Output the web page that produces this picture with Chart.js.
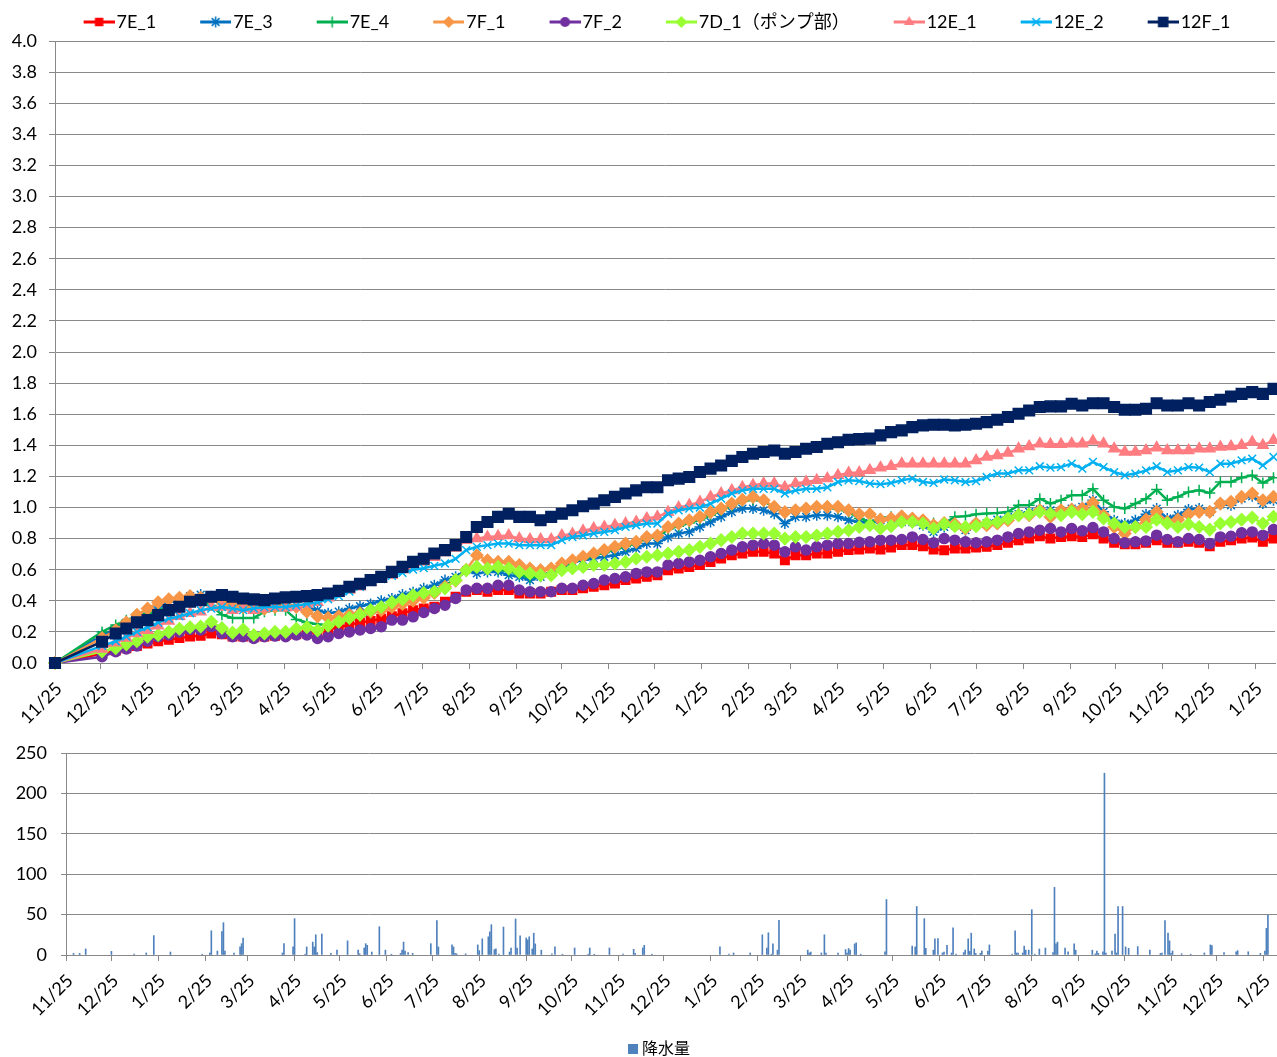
<!DOCTYPE html>
<html><head><meta charset="utf-8">
<script src="https://cdn.jsdelivr.net/npm/chart.js@4.4.1/dist/chart.umd.min.js"></script>
<style>
html,body{margin:0;padding:0;background:#fff;overflow:hidden;width:1277px;height:1057px;}
#c1{position:absolute;left:0;top:0;}
#c2{position:absolute;left:0;top:740px;}
</style></head><body>
<canvas id="c1" width="1277" height="750"></canvas>
<canvas id="c2" width="1277" height="327"></canvas>
<script>
// ---------- data ----------
const tickDays = [0,30,61,92,120,151,181,212,242,273,304,334,365,395,426,457,485,516,546,577,607,638,669,699,730,760,791];
const tickLabels = ['11/25','12/25','1/25','2/25','3/25','4/25','5/25','6/25','7/25','8/25','9/25','10/25','11/25','12/25','1/25','2/25','3/25','4/25','5/25','6/25','7/25','8/25','9/25','10/25','11/25','12/25','1/25'];
const seriesNames = ['7E_1','7E_3','7E_4','7F_1','7F_2','7D_1（ポンプ部）','12E_1','12E_2','12F_1'];
const measureDays = [0,31,40,47,54,61,68,75,82,89,96,103,110,117,124,131,138,145,152,159,166,173,180,187,194,201,208,215,222,229,236,
243,250,257,264,271,278,285,292,299,306,313,320,327,334,341,348,355,362,369,376,383,390,397,404,411,418,425,432,439,446,453,460,467,474,481,488,495,502,509,516,523,530,
537,544,551,558,565,572,579,586,593,600,607,614,621,628,635,642,649,656,663,670,677,684,691,698,705,712,719,726,733,740,747,754,761,768,775,782,789,796,803];

const v7E_1 = [0,0.06,0.08,0.095,0.11,0.125,0.14,0.15,0.16,0.17,0.175,0.19,0.185,0.17,0.17,0.165,0.17,0.175,0.18,0.185,0.19,0.2,0.215,0.23,0.245,0.26,0.27,0.285,0.3,0.32,0.34,
0.35,0.362,0.394,0.426,0.458,0.469,0.458,0.469,0.469,0.447,0.447,0.447,0.458,0.469,0.469,0.48,0.49,0.5,0.511,0.533,0.543,0.554,0.565,0.597,0.608,0.618,0.63,0.65,0.672,0.693,0.704,0.715,0.715,0.704,0.66,0.693,0.693,0.704,0.704,0.715,0.726,0.73,
0.736,0.73,0.743,0.758,0.758,0.751,0.73,0.725,0.736,0.736,0.743,0.747,0.758,0.773,0.79,0.8,0.815,0.8,0.811,0.815,0.811,0.828,0.8,0.773,0.764,0.764,0.773,0.79,0.773,0.773,0.779,0.773,0.751,0.779,0.79,0.8,0.807,0.779,0.8];
const v7E_3 = [0,0.18,0.22,0.26,0.29,0.32,0.36,0.39,0.41,0.43,0.44,0.43,0.41,0.39,0.38,0.37,0.37,0.37,0.37,0.37,0.36,0.34,0.32,0.33,0.35,0.365,0.38,0.4,0.415,0.44,0.455,
0.48,0.5,0.533,0.554,0.597,0.576,0.586,0.586,0.565,0.554,0.533,0.554,0.576,0.619,0.65,0.66,0.672,0.683,0.693,0.715,0.736,0.768,0.768,0.81,0.833,0.843,0.875,0.907,0.94,0.972,0.993,0.993,0.982,0.96,0.897,0.94,0.94,0.95,0.95,0.94,0.918,0.907,
0.9,0.918,0.922,0.907,0.907,0.886,0.843,0.875,0.886,0.854,0.893,0.9,0.922,0.94,0.957,0.972,0.987,0.982,0.978,0.993,1.004,1.047,0.972,0.918,0.897,0.918,0.957,0.993,0.929,0.95,0.987,0.993,0.972,1.021,1.014,1.057,1.072,1.025,1.047];
const v7E_4 = [0,0.2,0.245,0.275,0.3,0.32,0.34,0.36,0.38,0.39,0.39,0.37,0.31,0.29,0.29,0.29,0.33,0.34,0.34,0.28,0.26,0.25,0.24,0.26,0.28,0.3,0.32,0.34,0.36,0.38,0.41,
0.43,0.46,0.5,0.54,0.59,0.62,0.6,0.6,0.59,0.57,0.55,0.56,0.58,0.62,0.65,0.67,0.69,0.71,0.73,0.75,0.77,0.8,0.81,0.86,0.88,0.9,0.92,0.95,0.98,1.01,1.04,1.05,1.04,1.0,0.97,0.98,0.99,1.0,1.0,0.99,0.97,0.93,
0.907,0.929,0.94,0.922,0.918,0.907,0.9,0.897,0.94,0.944,0.957,0.961,0.965,0.972,1.014,1.014,1.057,1.025,1.047,1.079,1.079,1.121,1.047,1.004,0.993,1.025,1.057,1.115,1.047,1.068,1.1,1.111,1.094,1.164,1.164,1.192,1.207,1.158,1.192];
const v7F_1 = [0,0.16,0.21,0.26,0.31,0.35,0.39,0.41,0.42,0.43,0.42,0.41,0.39,0.37,0.36,0.36,0.35,0.36,0.37,0.36,0.33,0.3,0.29,0.3,0.31,0.32,0.33,0.34,0.36,0.38,0.4,
0.42,0.45,0.49,0.53,0.6,0.693,0.66,0.65,0.65,0.63,0.608,0.597,0.608,0.64,0.66,0.683,0.704,0.726,0.747,0.768,0.779,0.81,0.82,0.875,0.897,0.918,0.94,0.97,0.993,1.025,1.05,1.068,1.047,1.004,0.97,0.982,0.993,1.004,1.004,1.004,0.982,0.957,
0.957,0.922,0.929,0.944,0.929,0.918,0.886,0.9,0.893,0.865,0.897,0.886,0.897,0.918,0.95,0.95,0.982,0.94,0.982,0.987,0.993,1.03,0.95,0.875,0.833,0.875,0.922,0.972,0.907,0.922,0.957,0.972,0.972,1.025,1.036,1.068,1.09,1.047,1.068];
const v7F_2 = [0,0.04,0.073,0.09,0.11,0.14,0.169,0.18,0.2,0.216,0.212,0.233,0.19,0.169,0.169,0.158,0.169,0.173,0.169,0.18,0.18,0.158,0.169,0.19,0.2,0.212,0.222,0.233,0.276,0.276,0.297,
0.325,0.351,0.372,0.415,0.469,0.48,0.48,0.5,0.5,0.469,0.458,0.458,0.458,0.48,0.48,0.5,0.511,0.533,0.543,0.554,0.576,0.586,0.586,0.63,0.64,0.65,0.66,0.683,0.704,0.726,0.747,0.758,0.768,0.758,0.715,0.747,0.726,0.747,0.758,0.768,0.768,0.776,
0.779,0.79,0.79,0.794,0.811,0.794,0.773,0.8,0.79,0.779,0.773,0.779,0.79,0.811,0.833,0.843,0.854,0.865,0.843,0.865,0.85,0.871,0.843,0.8,0.773,0.779,0.785,0.822,0.794,0.779,0.8,0.794,0.768,0.811,0.815,0.837,0.843,0.822,0.858];
const v7D_1 = [0,0.075,0.095,0.12,0.14,0.17,0.18,0.2,0.22,0.23,0.235,0.265,0.225,0.195,0.215,0.18,0.19,0.2,0.2,0.22,0.23,0.21,0.24,0.265,0.29,0.31,0.34,0.36,0.39,0.41,0.435,
0.45,0.458,0.48,0.533,0.597,0.618,0.608,0.618,0.608,0.586,0.576,0.565,0.565,0.597,0.608,0.618,0.63,0.63,0.64,0.65,0.672,0.683,0.693,0.704,0.715,0.726,0.747,0.768,0.79,0.81,0.833,0.833,0.833,0.833,0.8,0.81,0.81,0.82,0.833,0.843,0.854,0.875,
0.886,0.865,0.88,0.907,0.907,0.897,0.865,0.893,0.88,0.875,0.88,0.9,0.907,0.929,0.95,0.957,0.972,0.961,0.95,0.972,0.957,0.972,0.929,0.897,0.875,0.875,0.875,0.922,0.897,0.875,0.893,0.875,0.858,0.897,0.907,0.922,0.935,0.897,0.94];
const v12E_1 = [0,0.09,0.13,0.16,0.19,0.21,0.24,0.27,0.3,0.32,0.33,0.36,0.36,0.34,0.35,0.34,0.35,0.36,0.355,0.36,0.38,0.39,0.42,0.45,0.47,0.49,0.52,0.54,0.565,0.6,0.62,
0.65,0.68,0.71,0.74,0.79,0.8,0.81,0.815,0.82,0.8,0.795,0.795,0.795,0.82,0.83,0.85,0.865,0.875,0.886,0.897,0.907,0.93,0.94,0.97,1.0,1.015,1.036,1.068,1.09,1.11,1.13,1.143,1.154,1.154,1.13,1.154,1.164,1.175,1.186,1.207,1.222,1.225,
1.239,1.256,1.265,1.282,1.282,1.282,1.282,1.282,1.282,1.282,1.303,1.325,1.335,1.35,1.378,1.393,1.41,1.406,1.406,1.41,1.41,1.427,1.41,1.378,1.357,1.357,1.367,1.385,1.367,1.367,1.367,1.378,1.378,1.389,1.393,1.4,1.421,1.4,1.432];
const v12E_2 = [0,0.11,0.14,0.17,0.2,0.23,0.26,0.285,0.3,0.32,0.34,0.35,0.36,0.35,0.34,0.35,0.36,0.36,0.36,0.37,0.38,0.39,0.41,0.43,0.46,0.49,0.52,0.54,0.56,0.58,0.6,
0.61,0.625,0.64,0.67,0.726,0.747,0.758,0.768,0.768,0.758,0.758,0.758,0.758,0.79,0.81,0.82,0.833,0.843,0.854,0.875,0.886,0.897,0.897,0.96,0.982,0.993,1.0,1.025,1.057,1.09,1.11,1.12,1.12,1.12,1.09,1.11,1.12,1.12,1.13,1.164,1.175,1.17,
1.154,1.15,1.158,1.175,1.186,1.164,1.158,1.18,1.175,1.164,1.17,1.196,1.218,1.218,1.239,1.239,1.265,1.256,1.26,1.282,1.25,1.293,1.26,1.228,1.207,1.218,1.239,1.265,1.228,1.239,1.26,1.256,1.228,1.282,1.282,1.303,1.314,1.271,1.325];
const v12F_1 = [0,0.137,0.19,0.222,0.261,0.276,0.308,0.34,0.362,0.394,0.404,0.426,0.437,0.426,0.415,0.409,0.404,0.415,0.422,0.426,0.43,0.437,0.447,0.464,0.49,0.51,0.533,0.554,0.586,0.618,0.65,
0.67,0.704,0.726,0.758,0.81,0.875,0.907,0.94,0.96,0.94,0.94,0.918,0.94,0.96,0.982,1.008,1.025,1.047,1.068,1.09,1.11,1.13,1.13,1.175,1.186,1.196,1.228,1.25,1.27,1.3,1.325,1.346,1.357,1.367,1.346,1.357,1.378,1.389,1.41,1.42,1.436,1.44,
1.443,1.464,1.485,1.496,1.517,1.528,1.532,1.532,1.528,1.532,1.539,1.549,1.564,1.582,1.603,1.624,1.646,1.65,1.65,1.667,1.656,1.67,1.67,1.646,1.629,1.629,1.635,1.67,1.656,1.656,1.67,1.656,1.678,1.693,1.714,1.731,1.742,1.731,1.763];

const rainDays = [5,9,13,30,45,53,58,69,90,95,96,100,103,104,105,111,115,116,117,143,144,150,151,158,159,163,164,165,166,169,175,179,186,193,194,197,198,199,202,207,211,215,221,222,223,224,226,229,241,245,246,255,256,257,258,264,
272,273,275,279,280,281,283,284,286,289,293,294,297,298,300,304,305,306,308,309,310,314,321,323,328,336,345,346,349,359,368,375,376,381,382,387,
432,438,441,452,460,463,464,466,467,470,471,490,491,492,499,501,502,510,515,516,517,518,521,522,525,
541,542,559,561,562,567,568,573,574,576,579,580,582,585,586,588,593,594,596,597,598,600,601,604,605,609,610,625,627,628,629,632,633,634,636,638,640,643,647,652,653,654,655,660,662,666,667,
678,680,681,682,685,686,687,691,693,694,695,698,700,702,708,716,723,724,726,728,729,730,731,737,743,752,756,757,765,773,774,781,789,792,793,794];
const rainValues = [2,2,7.5,4.5,1,2.5,24,3.7,1,2.5,30,5,29,40,5,2.5,10,14,21,2.5,14,10,45,1,10,16,10,25,3,26,2,6,17.5,6,1.5,8.7,14,12,3.7,35,6,1,2,6,16,5,3,2,14,42.5,10,12.5,10,2,1.5,1.5,
12.5,5.4,20,22.5,28.7,37.5,6.7,7.5,1,34.6,3.7,8.7,44.6,8.7,23.7,21,18.7,22.5,7.5,27,13.7,6,1.5,10,1,8.7,1,8.7,1,8.7,1,7,2,8.7,12,1,
10,1,2.5,2.5,25,8.7,27.5,1,13.7,6,43,6,2.5,3.7,2.5,25,2.5,2.5,6.7,2.5,8,6,13.7,15,1,
4,68.7,11,10,60,45,8.3,6,20,20.4,2.5,3.7,12,2.5,33.7,1,3,6,20,4.6,27,7.5,2,2,5,5,12.5,1,30,2.5,2.5,2.5,11,6,6,56,1,7.5,8.7,3,83.7,13.7,16,8.7,4,13.7,6,
6,1.5,5,2,4,225,2.5,5,26,2.5,60,60,10,8.3,10.4,6,2,2.5,42.5,27,17.5,2,5,1.5,1,2.5,12.5,11.7,3,4,5.4,4,2,5,33,49];

// ---------- styles ----------
const FONT = "Lato, 'Noto Sans CJK JP', sans-serif";
const GRID = '#888888';
const seriesValues = [v7E_1, v7E_3, v7E_4, v7F_1, v7F_2, v7D_1, v12E_1, v12E_2, v12F_1];
const styles = [
  {color:'#FF0000', point:'rect', r:6},
  {color:'#0070C0', point:'star', r:5.5},
  {color:'#00B050', point:'cross', r:5.5},
  {color:'#F79646', point:'rectRot', r:6},
  {color:'#7030A0', point:'circle', r:5},
  {color:'#99FF33', point:'rectRot', r:6},
  {color:'#FF7C80', point:'triangle', r:6},
  {color:'#00B0F0', point:'crossRot', r:5.5},
  {color:'#002060', point:'rect', r:7.5}
];
Chart.defaults.font.family = FONT;
Chart.defaults.color = '#000';

function marker(g, type, r, x, y){
  g.beginPath();
  const s = Math.SQRT1_2 * r;
  switch(type){
    case 'rect': g.rect(x-s, y-s, 2*s, 2*s); g.fill(); break;
    case 'circle': g.arc(x, y, r, 0, Math.PI*2); g.fill(); break;
    case 'rectRot': g.moveTo(x, y-r); g.lineTo(x+r, y); g.lineTo(x, y+r); g.lineTo(x-r, y); g.closePath(); g.fill(); break;
    case 'triangle': g.moveTo(x, y-r); g.lineTo(x+r*0.866, y+r*0.5); g.lineTo(x-r*0.866, y+r*0.5); g.closePath(); g.fill(); break;
    case 'cross': g.moveTo(x, y-r); g.lineTo(x, y+r); g.moveTo(x-r, y); g.lineTo(x+r, y); g.stroke(); break;
    case 'crossRot': g.moveTo(x-s, y-s); g.lineTo(x+s, y+s); g.moveTo(x+s, y-s); g.lineTo(x-s, y+s); g.stroke(); break;
    case 'star': g.moveTo(x, y-r); g.lineTo(x, y+r); g.moveTo(x-s, y-s); g.lineTo(x+s, y+s); g.moveTo(x+s, y-s); g.lineTo(x-s, y+s); g.stroke(); break;
  }
}
const BOXW = 55;
const legendImgs = styles.map(st => {
  const c = document.createElement('canvas');
  c.width = BOXW + 14; c.height = 18;
  const g = c.getContext('2d');
  g.strokeStyle = st.color; g.fillStyle = st.color;
  g.lineWidth = 3;
  g.beginPath(); g.moveTo(c.width - 31, 9); g.lineTo(c.width, 9); g.stroke();
  g.lineWidth = 1.5;
  marker(g, st.point, st.r, c.width - 15.5, 9);
  return c;
});
// legend square for the rain chart (drawn at the right edge of a wider transparent image)
const rainBox = (() => {
  const c = document.createElement('canvas');
  c.width = 55; c.height = 10;
  const g = c.getContext('2d');
  g.fillStyle = '#4F81BD'; g.fillRect(45, 0, 10, 10);
  return c;
})();
const noPadX = s => { s.paddingLeft = 0; s.paddingRight = 0; };
const noPadY = s => { s.paddingTop = 0; s.paddingBottom = 0; };
const xTicks = {autoSkip: false, minRotation: 45, maxRotation: 45, padding: 9, labelOffset: 4, color: '#000',
                font: {family: FONT, size: 18}, callback: (v, i) => tickLabels[i]};

// ---------- top chart ----------
const datasets = seriesNames.map((name, i) => ({
  label: name,
  data: measureDays.map((d, k) => ({x: d, y: seriesValues[i][k]})),
  borderColor: styles[i].color,
  backgroundColor: styles[i].color,
  pointBackgroundColor: styles[i].color,
  pointBorderColor: styles[i].color,
  borderWidth: 2.5,
  pointStyle: styles[i].point,
  pointRadius: styles[i].r,
  pointBorderWidth: 1.5,
  tension: 0,
  fill: false,
  clip: 10,
  order: seriesNames.length - 1 - i
}));

new Chart(document.getElementById('c1'), {
  type: 'line',
  data: {datasets},
  options: {
    responsive: false, animation: false, events: [],
    layout: {autoPadding: false, padding: {left: 8, right: 2, top: 0, bottom: 0}},
    plugins: {
      tooltip: {enabled: false},
      legend: {
        position: 'top', fullSize: true,
        labels: {
          usePointStyle: true, pointStyleWidth: BOXW, padding: 13, color: '#000',
          font: {family: FONT, size: 18},
          generateLabels(chart){
            const items = Chart.defaults.plugins.legend.labels.generateLabels(chart);
            items.forEach(it => { it.pointStyle = legendImgs[it.datasetIndex]; });
            return items.sort((a, b) => a.datasetIndex - b.datasetIndex);
          }
        }
      }
    },
    scales: {
      x: {
        type: 'linear', min: 0, max: 804,
        grid: {drawOnChartArea: false, drawTicks: true, tickLength: 6, color: GRID},
        border: {color: GRID, width: 1},
        ticks: xTicks,
        afterBuildTicks: s => { s.ticks = tickDays.map(v => ({value: v})); },
        afterFit: s => { s.height = 87; noPadX(s); }
      },
      y: {
        min: 0, max: 4,
        grid: {color: GRID, tickLength: 6},
        border: {color: GRID, width: 1},
        ticks: {stepSize: 0.2, padding: 12, color: '#000', font: {family: FONT, size: 18},
                callback: v => Number(v).toFixed(1)},
        afterFit: s => { s.width = 47; noPadY(s); }
      }
    }
  }
});

// ---------- bottom chart ----------
new Chart(document.getElementById('c2'), {
  type: 'bar',
  data: {datasets: [{
    label: '降水量',
    data: rainDays.map((d, i) => ({x: d, y: rainValues[i]})),
    backgroundColor: '#4F81BD', borderWidth: 0, barThickness: 1, grouped: false
  }]},
  options: {
    responsive: false, animation: false, events: [],
    layout: {autoPadding: false, padding: {left: 0, right: 0, top: 13, bottom: 0}},
    plugins: {
      tooltip: {enabled: false},
      legend: {position: 'bottom', fullSize: true,
        labels: {usePointStyle: true, pointStyleWidth: 47, padding: 8, color: '#000',
                 font: {family: FONT, size: 16},
                 generateLabels(chart){
                   const items = Chart.defaults.plugins.legend.labels.generateLabels(chart);
                   items.forEach(it => { it.pointStyle = rainBox; });
                   return items;
                 }}}
    },
    scales: {
      x: {
        type: 'linear', min: 0, max: 800, offset: false,
        grid: {drawOnChartArea: false, drawTicks: true, tickLength: 6, color: GRID, offset: false},
        border: {color: GRID, width: 1},
        ticks: xTicks,
        afterBuildTicks: s => { s.ticks = tickDays.map(v => ({value: v})); },
        afterFit: s => { s.height = 78; noPadX(s); }
      },
      y: {
        min: 0, max: 250,
        grid: {color: GRID, tickLength: 5},
        border: {color: GRID, width: 1},
        ticks: {stepSize: 50, padding: 14, color: '#000', font: {family: FONT, size: 18}},
        afterFit: s => { s.width = 66; noPadY(s); }
      }
    }
  }
});
</script></body></html>
